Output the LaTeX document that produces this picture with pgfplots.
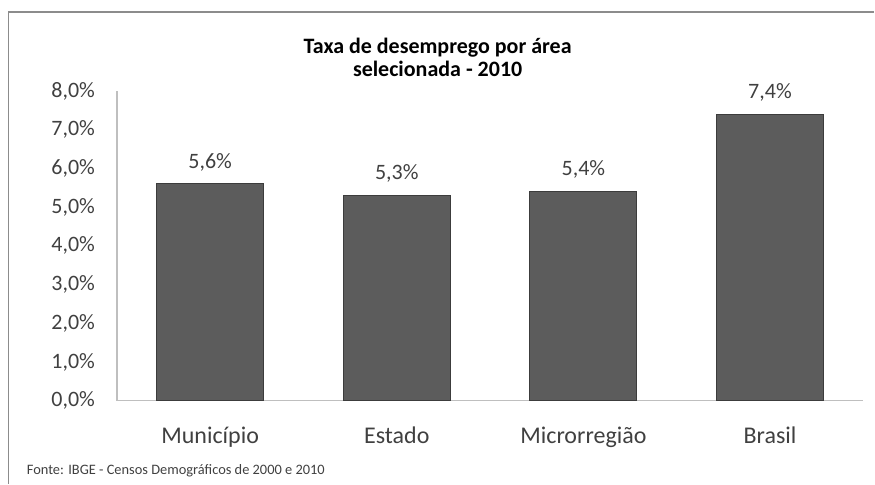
\documentclass[border=0pt]{standalone}
\usepackage{pgfplots}
\pgfplotsset{compat=1.18}
\usepackage{fontspec}
\setmainfont{Carlito}
\definecolor{barfill}{HTML}{5C5C5C}
\definecolor{bardraw}{HTML}{3C3C3C}
\definecolor{txt}{HTML}{404040}
\definecolor{frame}{HTML}{8C8C8C}
\begin{document}
\begin{tikzpicture}
\path (0,0) rectangle (656.25pt,363pt);
\draw[frame, line width=1.1pt] (6.5pt,0) -- (6.5pt,354pt) -- (656.25pt,354pt);
\node[font=\fontsize{16.5}{17.5}\selectfont\bfseries, align=center, text=black] at (328.5pt,320pt)
  {Taxa de desemprego por área\\selecionada - 2010};
\node[anchor=west, font=\fontsize{10.8}{12}\selectfont, text=txt, inner sep=0pt] at (20pt,9.75pt)
  {Fonte: IBGE - Censos Demográficos de 2000 e 2010};
\begin{axis}[
    at={(87.75pt,62.25pt)}, anchor=south west,
    scale only axis,
    width=560.25pt, height=232.5pt,
    xmin=-0.5, xmax=3.5,
    ymin=0, ymax=8,
    ytick={0,1,...,8},
    xtick=data,
    xticklabels={Município,Estado,Microrregião,Brasil},
    axis x line*=bottom,
    axis y line*=left,
    axis line style={draw=black!25, line width=0.9pt},
    major tick length=0pt,
    yticklabel style={font=\fontsize{16.5}{18}\selectfont, text=txt, xshift=-13pt},
    xticklabel style={font=\fontsize{18}{20}\selectfont, text=txt, yshift=-16pt},
    /pgf/number format/assume math mode=true,
    /pgf/number format/use comma,
    /pgf/number format/fixed,
    /pgf/number format/fixed zerofill,
    /pgf/number format/precision=1,
    yticklabel={\pgfmathprintnumber{\tick}\%},
    ybar, bar width=80.25pt,
    nodes near coords={\pgfmathprintnumber{\pgfplotspointmeta}\%},
    nodes near coords style={font=\fontsize{16.5}{18}\selectfont, text=txt, yshift=6pt},
    clip=false,
]
\addplot[fill=barfill, draw=bardraw, line width=0.8pt] coordinates {(0,5.6) (1,5.3) (2,5.4) (3,7.4)};
\end{axis}
\end{tikzpicture}
\end{document}
